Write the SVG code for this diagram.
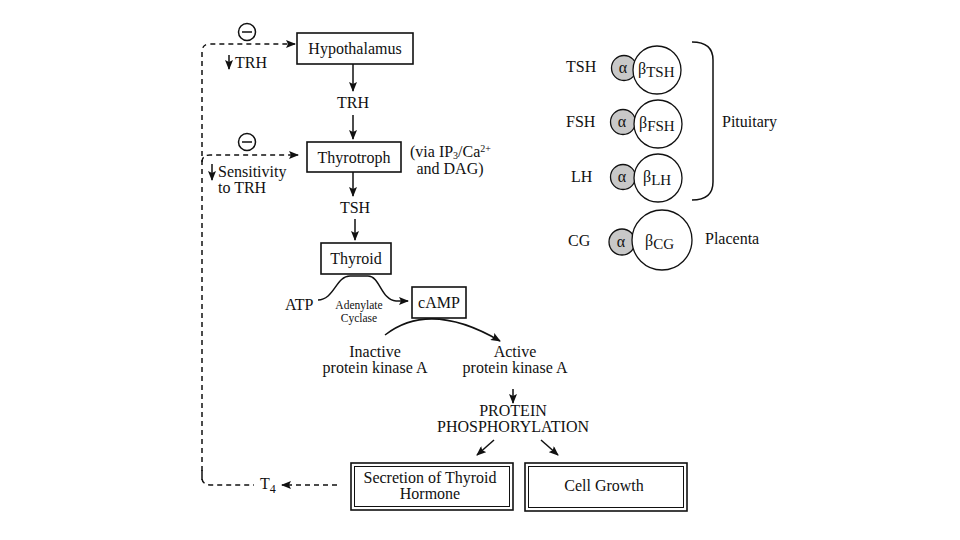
<svg xmlns="http://www.w3.org/2000/svg" width="960" height="540" viewBox="0 0 960 540">
<defs>
<marker id="ah" markerUnits="userSpaceOnUse" markerWidth="10" markerHeight="8" refX="9" refY="4" orient="auto">
<path d="M0,0 L10,4 L0,8 L2,4 z" fill="#111"/>
</marker>
<style>
text{font-family:"Liberation Serif","Times New Roman",serif;fill:#111;font-size:16px}
.c{text-anchor:middle}
.s{font-size:11.5px}
.box{fill:#fff;stroke:#111;stroke-width:1.6}
.in{fill:none;stroke:#111;stroke-width:1}
.ln{fill:none;stroke:#111;stroke-width:1.5}
.dash{fill:none;stroke:#111;stroke-width:1.5;stroke-dasharray:5 4}
.alpha{fill:#c8c8c8;stroke:#111;stroke-width:1.3}
.beta{fill:#fff;stroke:#111;stroke-width:1.3}
.minus{fill:#fff;stroke:#111;stroke-width:1.5}
</style>
</defs>
<rect width="960" height="540" fill="#fff"/>

<g id="connectors">
<path class="dash" d="M202,480 L202,52 Q202,44 210,44 L295,44" marker-end="url(#ah)"/>
<path class="dash" d="M202,162 Q202,155 210,155 L298,155" marker-end="url(#ah)"/>
<path class="dash" d="M202,470 L202,478 Q202,485 212,485 L254,485"/>
<path class="dash" d="M337,485 L282,485" marker-end="url(#ah)"/>
<line class="ln" x1="353" y1="64" x2="353" y2="91" marker-end="url(#ah)"/>
<line class="ln" x1="353" y1="115" x2="353" y2="139" marker-end="url(#ah)"/>
<line class="ln" x1="353" y1="172" x2="353" y2="196" marker-end="url(#ah)"/>
<line class="ln" x1="355" y1="219" x2="355" y2="240" marker-end="url(#ah)"/>
<path class="ln" d="M318,300 C334,300 336,276 350,276 L368,276 C380,276 381,300 396,301 L408,301" marker-end="url(#ah)"/>
<path class="ln" d="M385,335 Q430,300 500,341" marker-end="url(#ah)"/>
<line class="ln" x1="513" y1="389" x2="513" y2="403" marker-end="url(#ah)"/>
<line class="ln" x1="494" y1="440" x2="477" y2="455" marker-end="url(#ah)"/>
<line class="ln" x1="541" y1="440" x2="558" y2="455" marker-end="url(#ah)"/>
<line class="ln" x1="229" y1="55" x2="229" y2="69" marker-end="url(#ah)"/>
<line class="ln" x1="212" y1="164" x2="212" y2="180" marker-end="url(#ah)"/>
</g>

<g id="inhibit1">
<circle class="minus" cx="247" cy="32" r="8.5"/>
<line class="ln" x1="242" y1="32" x2="252" y2="32"/>
<text x="235" y="68" font-size="15">TRH</text>
</g>
<g id="inhibit2">
<circle class="minus" cx="247" cy="142" r="8.5"/>
<line class="ln" x1="242" y1="142" x2="252" y2="142"/>
<text x="218" y="177" font-size="14">Sensitivity</text>
<text x="218" y="193" font-size="14">to TRH</text>
</g>

<g id="hypothalamus">
<rect class="box" x="297" y="33" width="116" height="31"/>
<text class="c" x="355" y="54">Hypothalamus</text>
</g>
<g id="trh"><text class="c" x="353" y="108">TRH</text></g>
<g id="thyrotroph">
<rect class="box" x="307" y="142" width="94" height="30"/>
<text class="c" x="354" y="163">Thyrotroph</text>
<text x="410" y="157" font-size="14">(via IP<tspan font-size="10" dy="2">3</tspan><tspan dy="-2">/Ca</tspan><tspan font-size="10" dy="-5">2+</tspan></text>
<text class="c" x="450" y="174" font-size="14">and DAG)</text>
</g>
<g id="tsh"><text class="c" x="355" y="213">TSH</text></g>
<g id="thyroid">
<rect class="box" x="321" y="243" width="70" height="31"/>
<text class="c" x="356" y="264">Thyroid</text>
</g>
<g id="atp"><text x="285" y="310" font-size="15">ATP</text></g>
<g id="adenylate">
<text class="c s" x="359" y="309">Adenylate</text>
<text class="c s" x="359" y="322">Cyclase</text>
</g>
<g id="camp">
<rect class="box" x="412" y="287" width="54" height="31"/>
<text class="c" x="439" y="308">cAMP</text>
</g>
<g id="inactive">
<text class="c" x="375" y="357" font-size="15">Inactive</text>
<text class="c" x="375" y="373" font-size="15">protein kinase A</text>
</g>
<g id="active">
<text class="c" x="515" y="357" font-size="15">Active</text>
<text class="c" x="515" y="373" font-size="15">protein kinase A</text>
</g>
<g id="phosphorylation">
<text class="c" x="513" y="416" font-size="14.5">PROTEIN</text>
<text class="c" x="513" y="432" font-size="14.5">PHOSPHORYLATION</text>
</g>
<g id="secretion">
<rect class="box" x="351" y="463" width="162" height="47" stroke-width="2"/>
<rect class="in" x="354.5" y="466.5" width="155" height="40"/>
<text class="c" x="430" y="483" font-size="15.5">Secretion of Thyroid</text>
<text class="c" x="430" y="499" font-size="15.5">Hormone</text>
</g>
<g id="cellgrowth">
<rect class="box" x="525" y="463" width="162" height="48" stroke-width="2"/>
<rect class="in" x="528.5" y="466.5" width="155" height="41"/>
<text class="c" x="604" y="491">Cell Growth</text>
</g>
<g id="t4"><text x="260" y="489">T<tspan font-size="12" dy="4">4</tspan></text></g>

<g id="hormone-tsh">
<text x="566" y="72" font-size="15">TSH</text>
<circle class="alpha" cx="624" cy="68" r="12.5"/>
<circle class="beta" cx="657" cy="70" r="24"/>
<text class="c" x="623" y="73" font-size="16">α</text>
<text x="638" y="74" font-size="18">β<tspan font-size="15" dy="3">TSH</tspan></text>
</g>
<g id="hormone-fsh">
<text x="566" y="127" font-size="15">FSH</text>
<circle class="alpha" cx="623" cy="122" r="12.5"/>
<circle class="beta" cx="658" cy="124" r="24"/>
<text class="c" x="622" y="127" font-size="16">α</text>
<text x="639" y="128" font-size="18">β<tspan font-size="15" dy="3">FSH</tspan></text>
</g>
<g id="hormone-lh">
<text x="571" y="182" font-size="15">LH</text>
<circle class="alpha" cx="623" cy="177" r="12.5"/>
<circle class="beta" cx="658" cy="178" r="24"/>
<text class="c" x="622" y="182" font-size="16">α</text>
<text x="643" y="182" font-size="18">β<tspan font-size="15" dy="3">LH</tspan></text>
</g>
<g id="hormone-cg">
<text x="568" y="246" font-size="15">CG</text>
<circle class="alpha" cx="622" cy="242" r="13"/>
<circle class="beta" cx="662" cy="240" r="30"/>
<text class="c" x="621" y="247" font-size="16">α</text>
<text x="645" y="246" font-size="18">β<tspan font-size="15" dy="3">CG</tspan></text>
</g>
<g id="pituitary">
<path class="ln" d="M692,42 Q713,42 713,60 L713,182 Q713,200 692,200"/>
<text x="722" y="127" font-size="15">Pituitary</text>
</g>
<g id="placenta"><text x="705" y="244" font-size="15">Placenta</text></g>
</svg>
